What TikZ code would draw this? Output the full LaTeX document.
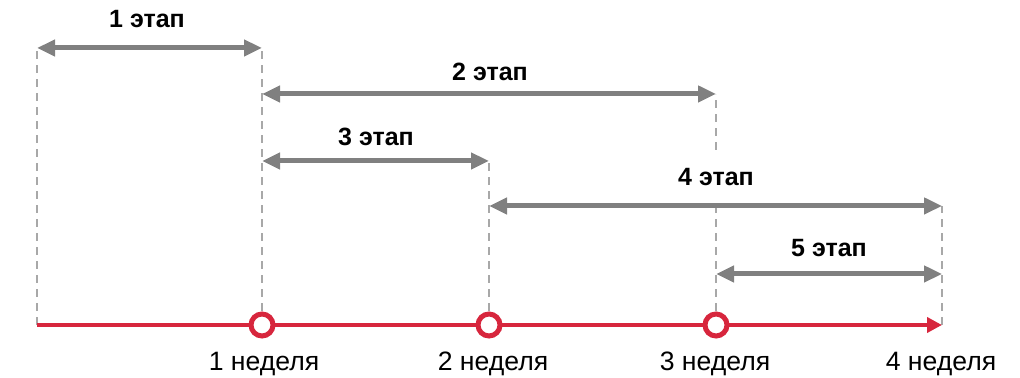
\documentclass[tikz,border=0pt]{standalone}
\usepackage{fontspec}
\setmainfont{Liberation Sans}
\usetikzlibrary{arrows.meta}
\definecolor{axisred}{HTML}{D7263D}
\definecolor{stagegray}{HTML}{808080}
\definecolor{guidegray}{HTML}{A8A8A8}
\tikzset{
	stagearrow/.style={stagegray, line width=2.5pt, {Triangle[length=9pt,width=8pt]}-{Triangle[length=9pt,width=8pt]}},
	guide/.style={guidegray, line width=1pt, dash pattern=on 4pt off 3pt},
	stagelabel/.style={anchor=base, font=\bfseries\fontsize{12.5}{14}\selectfont, inner sep=0pt},
	weeklabel/.style={anchor=base, font=\fontsize{13.3}{16}\selectfont, inner sep=0pt},
	milestone/.style={circle, draw=axisred, fill=white, line width=2.5pt, minimum size=11pt, inner sep=0pt},
}
\begin{document}
\begin{tikzpicture}[x=0.5pt,y=-0.5pt]
	\useasboundingbox (0,0) rectangle (1020,378);
	% weeks on the axis
	\coordinate (w0) at (37,325);
	\coordinate (w1) at (262,325);
	\coordinate (w2) at (489,325);
	\coordinate (w3) at (716,325);
	\coordinate (w4) at (942,325);
	% ends of the stages
	\coordinate (s1a) at (37,48);   \coordinate (s1b) at (262,48);
	\coordinate (s2a) at (262,94);  \coordinate (s2b) at (716,94);
	\coordinate (s3a) at (262,161); \coordinate (s3b) at (489,161);
	\coordinate (s4a) at (489,206); \coordinate (s4b) at (942,206);
	\coordinate (s5a) at (716,274); \coordinate (s5b) at (942,274);
	\coordinate (g2) at (716,150);
	\coordinate (g3) at (716,206);
	% dashed guides
	\draw[guide] (w0) -- (s1a);
	\draw[guide] (w1) -- (s1b);
	\draw[guide] (w2) -- (s3b);
	\draw[guide] (w3) -- (g3);
	\draw[guide] (g2) -- (s2b);
	\draw[guide] (w4) -- (s4b);
	% stages
	\draw[stagearrow] (s1a) -- (s1b);
	\draw[stagearrow] (s2a) -- (s2b);
	\draw[stagearrow] (s3a) -- (s3b);
	\draw[stagearrow] (s4a) -- (s4b);
	\draw[stagearrow] (s5a) -- (s5b);
	\node[stagelabel] (t1) at (147,28) {1 этап};
	\node[stagelabel] (t2) at (490,81) {2 этап};
	\node[stagelabel] (t3) at (376,146) {3 этап};
	\node[stagelabel] (t4) at (716,186) {4 этап};
	\node[stagelabel] (t5) at (829,257) {5 этап};
	% axis
	\draw[axisred, line width=2pt, -{Triangle[length=7.5pt,width=7.5pt]}] (w0) -- (w4);
	\node[milestone] (m1) at (w1) {};
	\node[milestone] (m2) at (w2) {};
	\node[milestone] (m3) at (w3) {};
	\node[weeklabel] (l1) at (264,371) {1 неделя};
	\node[weeklabel] (l2) at (493,371) {2 неделя};
	\node[weeklabel] (l3) at (715,371) {3 неделя};
	\node[weeklabel] (l4) at (941,371) {4 неделя};
\end{tikzpicture}
\end{document}
